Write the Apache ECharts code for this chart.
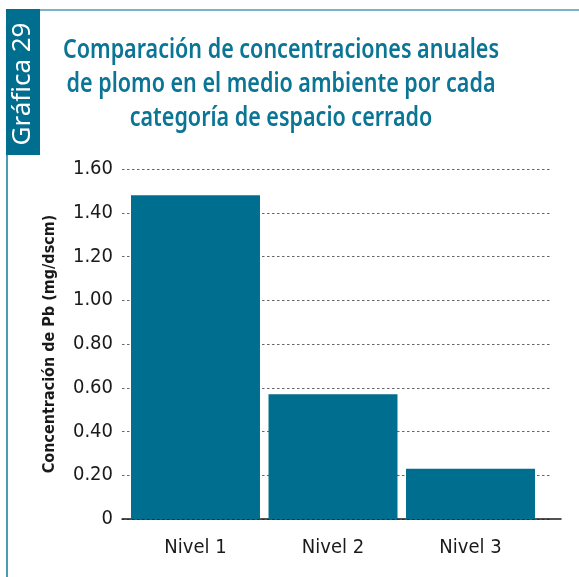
<!DOCTYPE html>
<html>
<head>
<meta charset="utf-8">
<style>
  html, body { margin: 0; padding: 0; background: #ffffff; }
  #chart { width: 579px; height: 577px; }
</style>
<script src="https://cdn.jsdelivr.net/npm/echarts@6/dist/echarts.min.js"></script>
</head>
<body>
<div id="chart"></div>
<script>
const categories = ['Nivel 1', 'Nivel 2', 'Nivel 3'];
const values = [1.48, 0.57, 0.23];
const yTicks = { min: 0, max: 1.6, interval: 0.2 };
const titleLines = ['Comparación de concentraciones anuales', 'de plomo en el medio ambiente por cada', 'categoría de espacio cerrado'];
const yAxisTitle = 'Concentración de Pb (mg/dscm)';
const badgeText = 'Gráfica 29';

const narrow = "'Liberation Sans Narrow', 'DejaVu Sans Condensed', sans-serif";
const titleFamily = "'Noto Sans', 'Open Sans', sans-serif";
const titleFont = "600 27px " + titleFamily;
const teal = '#006e8f';
const plotTop = 169, plotHeight = 350;

// horizontal squeeze so the title font looks condensed like the original (target width of line 1: 436px)
const mctx = document.createElement('canvas').getContext('2d');
mctx.font = titleFont;
const titleScale = 436 / mctx.measureText(titleLines[0]).width;

const chart = echarts.init(document.getElementById('chart'), null, { renderer: 'canvas' });
chart.setOption({
  animation: false,
  backgroundColor: '#ffffff',
  graphic: [
    { type: 'line', shape: { x1: 38, y1: 10, x2: 579, y2: 10 }, style: { stroke: '#4b9db7', lineWidth: 1.5 } },
    { type: 'line', shape: { x1: 7, y1: 150, x2: 7, y2: 577 }, style: { stroke: '#4b9db7', lineWidth: 2 } },
    { type: 'rect', shape: { x: 6, y: 9, width: 34, height: 146 }, style: { fill: teal } },
    { type: 'text', x: 23, y: 84, rotation: Math.PI / 2,
      style: { text: badgeText, fill: '#ffffff', font: "26px " + titleFamily, align: 'center', verticalAlign: 'middle' } },
    { type: 'text', position: [281, 84], scaleX: titleScale,
      style: { text: titleLines.join('\n'), fill: '#0b7596', font: titleFont, lineHeight: 34,
        align: 'center', verticalAlign: 'middle' } }
  ],
  grid: [
    { left: 122, width: 430, top: plotTop, height: plotHeight },
    { left: 122, width: 439, top: plotTop, height: plotHeight },
    { left: 126.75, width: 412.5, top: plotTop, height: plotHeight }
  ],
  xAxis: [
    { gridIndex: 0, type: 'category', data: categories, show: false },
    { gridIndex: 1, type: 'value', min: 0, max: 1, axisLine: { show: true, onZero: false, lineStyle: { color: '#1a1a1a', width: 1.5 } },
      axisTick: { show: false }, axisLabel: { show: false }, splitLine: { show: false } },
    { gridIndex: 2, type: 'category', data: categories, axisLine: { show: false }, axisTick: { show: false },
      axisLabel: { fontFamily: narrow, fontSize: 20, color: '#1a1a1a', margin: 19 } }
  ],
  yAxis: [
    { gridIndex: 0, type: 'value', min: yTicks.min, max: yTicks.max, interval: yTicks.interval,
      axisLine: { show: false }, axisTick: { show: false },
      axisLabel: { fontFamily: narrow, fontSize: 20, color: '#1a1a1a', margin: 9,
        formatter: v => (v === 0 ? '0' : v.toFixed(2)) },
      splitLine: { show: true, lineStyle: { color: '#666666', width: 1, type: [2.5, 2.5] } },
      name: yAxisTitle, nameLocation: 'middle', nameGap: 64, nameRotate: 90,
      nameTextStyle: { fontFamily: narrow, fontSize: 16, fontWeight: 'bold', color: '#1a1a1a' } },
    { gridIndex: 1, type: 'value', min: 0, max: 1, show: false },
    { gridIndex: 2, type: 'value', min: yTicks.min, max: yTicks.max, show: false }
  ],
  series: [
    { type: 'bar', xAxisIndex: 2, yAxisIndex: 2, data: values, barCategoryGap: '6.2%',
      itemStyle: { color: teal }, z: 3 }
  ]
});
</script>
</body>
</html>
